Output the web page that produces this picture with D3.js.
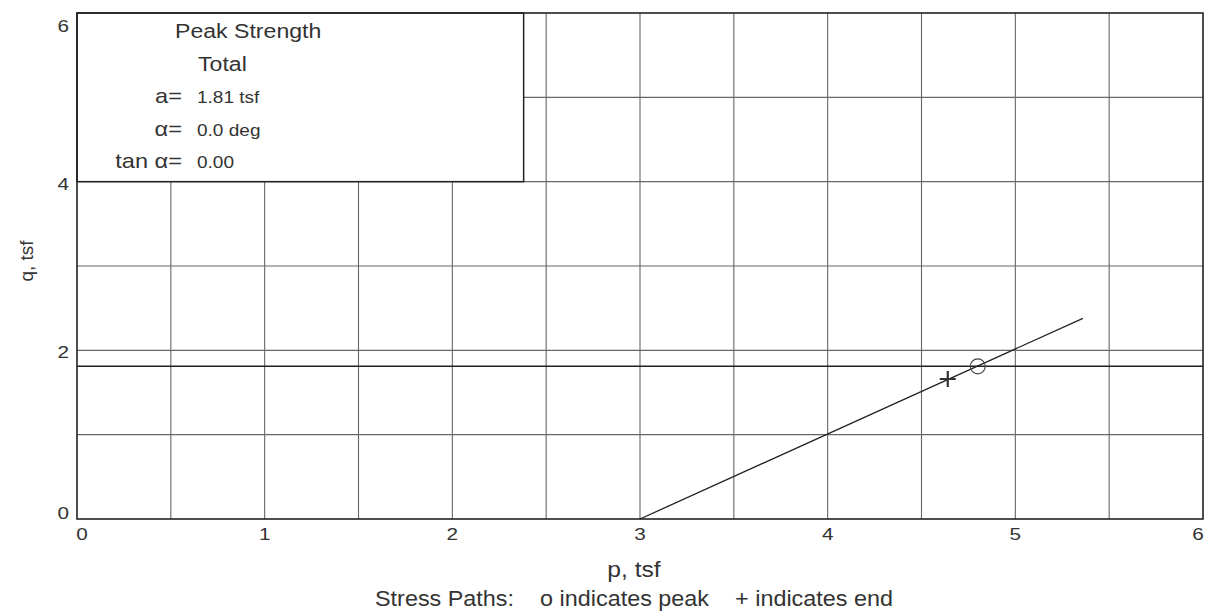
<!DOCTYPE html>
<html>
<head>
<meta charset="utf-8">
<script src="https://cdn.jsdelivr.net/npm/d3@7"></script>
<style>
  html, body { margin: 0; padding: 0; background: #fff; }
  svg { display: block; }
  text { font-family: "Liberation Sans", Arial, sans-serif; fill: #333; }
</style>
</head>
<body>
<svg id="chart" width="1206" height="614"></svg>
<script>
// ---- data ----
const xTicks = [0, 1, 2, 3, 4, 5, 6];
const yTicks = [0, 2, 4, 6];
const xGrid = [0.5, 1, 1.5, 2, 2.5, 3, 3.5, 4, 4.5, 5, 5.5];
const yGrid = [1, 2, 3, 4, 5];
const envelopeA = 1.81;           // a, tsf
const envelopeAlpha = 0.0;        // alpha, deg
const envelopeTan = 0.00;         // tan alpha
const pathP = [3.0, 5.36];
const pathQ = [0.0, 2.38];
const peakPoint = [4.80, 1.81];
const endPoint = [4.64, 1.66];
const legendBox = { p0: 0, p1: 2.38, q0: 4, q1: 6 };
const legendTitle = ["Peak Strength", "Total"];
const legendLabels = ["a=", "\u03b1=", "tan \u03b1="];
const legendValues = [envelopeA.toFixed(2) + " tsf", envelopeAlpha.toFixed(1) + " deg", envelopeTan.toFixed(2)];

// ---- layout ----
const svg = d3.select("#chart");
const x = d3.scaleLinear().domain([0, 6]).range([77, 1203]);
const y = d3.scaleLinear().domain([0, 6]).range([519, 13]);

// helper: text with horizontal stretch (scan is stretched horizontally)
function addText(tx, ty, str, size, sx, anchor) {
  return svg.append("text")
    .attr("transform", `translate(${tx},${ty}) scale(${sx},1)`)
    .attr("font-size", size)
    .attr("text-anchor", anchor || "start")
    .attr("xml:space", "preserve")
    .text(str);
}

// grid
const grid = svg.append("g").attr("stroke", "#666").attr("stroke-width", 1.1);
grid.selectAll("line.v").data(xGrid).join("line")
  .attr("x1", d => x(d)).attr("x2", d => x(d))
  .attr("y1", y(0)).attr("y2", y(6));
grid.selectAll("line.h").data(yGrid).join("line")
  .attr("x1", x(0)).attr("x2", x(6))
  .attr("y1", d => y(d)).attr("y2", d => y(d));

// envelope line
svg.append("line")
  .attr("x1", x(0)).attr("x2", x(6))
  .attr("y1", y(envelopeA)).attr("y2", y(envelopeA))
  .attr("stroke", "#222").attr("stroke-width", 1.5);

// legend box (white, covers grid)
svg.append("rect")
  .attr("x", x(legendBox.p0)).attr("y", y(legendBox.q1))
  .attr("width", x(legendBox.p1) - x(legendBox.p0))
  .attr("height", y(legendBox.q0) - y(legendBox.q1))
  .attr("fill", "#fff").attr("stroke", "#222").attr("stroke-width", 1.5);

// frame
svg.append("rect")
  .attr("x", x(0)).attr("y", y(6))
  .attr("width", x(6) - x(0)).attr("height", y(0) - y(6))
  .attr("fill", "none").attr("stroke", "#222").attr("stroke-width", 1.6);

// stress path
const line = d3.line().x(d => x(d[0])).y(d => y(d[1]));
svg.append("path")
  .datum(pathP.map((p, i) => [p, pathQ[i]]))
  .attr("d", line)
  .attr("fill", "none").attr("stroke", "#222").attr("stroke-width", 1.3);

// peak marker
svg.append("circle")
  .attr("cx", x(peakPoint[0])).attr("cy", y(peakPoint[1])).attr("r", 7.5)
  .attr("fill", "none").attr("stroke", "#444").attr("stroke-width", 1.2);

// end marker
const ex = x(endPoint[0]), ey = y(endPoint[1]);
svg.append("path")
  .attr("d", `M${ex - 8},${ey}H${ex + 8}M${ex},${ey - 8}V${ey + 8}`)
  .attr("stroke", "#333").attr("stroke-width", 2.2).attr("fill", "none");

// tick labels (end labels nudged inward like the original)
const tickSize = 17, tickStretch = 1.22;
xTicks.forEach((t, i) => {
  const nudge = i === 0 ? 5 : (i === xTicks.length - 1 ? -5 : 0);
  addText(x(t) + nudge, y(0) + 21, String(t), tickSize, tickStretch, "middle");
});
yTicks.forEach((t, i) => {
  const nudge = i === 0 ? -6 : (i === yTicks.length - 1 ? 13 : 2);
  addText(x(0) - 8, y(t) + 6 + nudge, String(t), tickSize, tickStretch, "end");
});

// axis titles
svg.append("text").attr("transform", "translate(33,261) rotate(-90)")
  .attr("text-anchor", "middle").attr("font-size", 19).text("q, tsf");
addText(634, 577, "p, tsf", 22, 1.12, "middle");
addText(634, 606, "Stress Paths:    o indicates peak    + indicates end", 22, 1.0, "middle")
  .attr("textLength", 518).attr("lengthAdjust", "spacingAndGlyphs");

// legend text
addText(175, 38, legendTitle[0], 21, 1.1, "start");
addText(198, 71, legendTitle[1], 21, 1.1, "start");
const rowY = [103, 136, 168];
legendLabels.forEach((l, i) => {
  addText(182, rowY[i], l, 20, 1.18, "end");
  addText(197, rowY[i], legendValues[i], 17, 1.12, "start");
});
</script>
</body>
</html>
